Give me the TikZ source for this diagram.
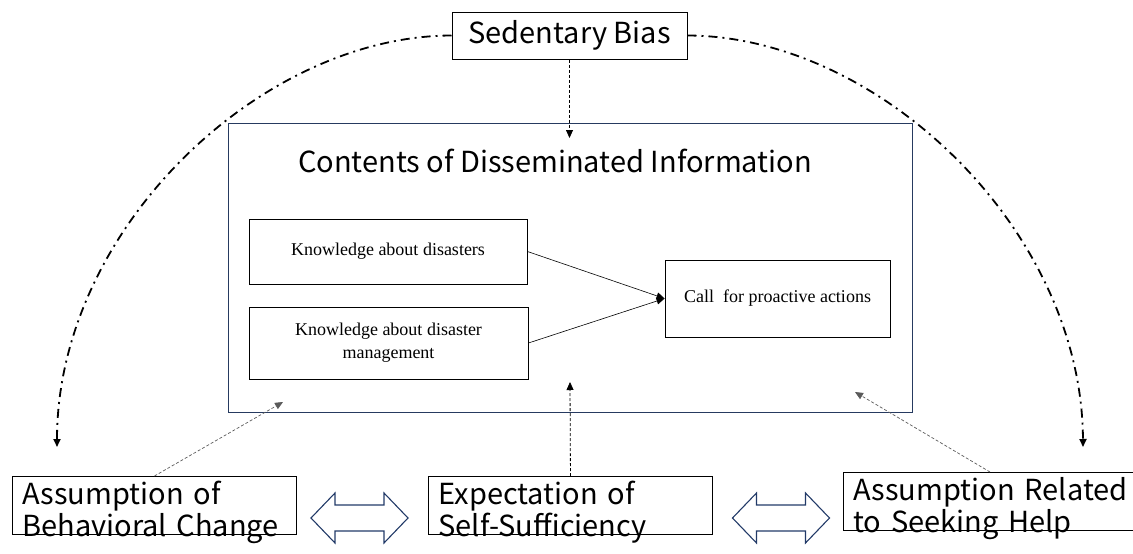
\documentclass[tikz,border=0pt]{standalone}
\usepackage{fontspec}
\usepackage{tikz}
\usetikzlibrary{arrows.meta, positioning, calc}
\newfontfamily\gothic{Noto Sans CJK JP}
\newfontfamily\timesfont{Liberation Serif}
\definecolor{framenavy}{RGB}{38, 58, 96}
\definecolor{arrownavy}{RGB}{34, 58, 104}
\definecolor{linkgray}{RGB}{90, 90, 90}

\begin{document}
\begin{tikzpicture}[x=1pt, y=-1pt,
    tip/.style={-{Triangle[length=8pt, width=7pt]}},
    bigtext/.style={font=\gothic\fontsize{29}{32}\selectfont},
    knowbox/.style={draw, line width=0.9pt, align=center, inner sep=0pt,
      font=\timesfont\fontsize{18}{23}\selectfont},
    assumbox/.style={draw, line width=0.9pt, anchor=north west, align=left, bigtext,
      inner xsep=10pt, inner ysep=5pt, text depth=25pt},
    dashdot/.style={line width=1.8pt, dash pattern=on 9pt off 5pt on 2pt off 5pt},
    thindash/.style={linkgray, line width=0.7pt, dash pattern=on 3pt off 2pt},
    vdash/.style={line width=0.8pt, dash pattern=on 3pt off 2pt},
    dblarrow/.pic={
      \draw[arrownavy, line width=1.1pt, line join=miter]
        (-48.5,0) -- (-24.5,-25) -- (-24.5,-13) -- (24.5,-13) -- (24.5,-25) -- (48.5,0)
        -- (24.5,25) -- (24.5,13) -- (-24.5,13) -- (-24.5,25) -- cycle;
    }
  ]
  \useasboundingbox (0,0) rectangle (1133,554);

  % top label and the frame of the information block
  \node[draw, bigtext, line width=1pt, inner sep=0pt, minimum width=235pt, minimum height=47pt]
    (bias) at (569.5,35.5) {Sedentary Bias};
  \node[draw=framenavy, line width=1pt, minimum width=684pt, minimum height=289pt]
    (info) at (570,267.5) {};
  \node[bigtext] (title) at (555,161) {Contents of Disseminated Information};

  % contents inside the frame
  \node[knowbox, minimum width=278pt, minimum height=65pt] (know) at (388,251.5)
    {Knowledge about disasters};
  \node[knowbox, minimum width=279pt, minimum height=72pt] (manage) at (388.5,343)
    {Knowledge about disaster\\management};
  \node[knowbox, minimum width=225pt, minimum height=77pt] (call) at (777.5,298.5)
    {Call\ \ for proactive actions};
  \draw[tip, line width=0.6pt] (know.east) -- (call.west);
  \draw[tip, line width=0.6pt] (manage.east) -- (call.west);

  % the three assumptions along the bottom
  \node[assumbox, text width=264pt] (behav) at (12,476) {Assumption of\\Behavioral Change};
  \node[assumbox, text width=264pt] (self) at (428,476) {Expectation of\\Self-Sufficiency};
  \node[assumbox, text width=300pt] (help) at (843,472) {Assumption Related\\to Seeking Help};
  \pic at (359.5,518) {dblarrow};
  \pic at (781,518) {dblarrow};

  % links into the frame
  \coordinate (infotop) at (569.5,138);
  \coordinate (behavtip) at (283,402);
  \coordinate (selftip) at (570,382);
  \coordinate (helptip) at (855,392);
  \draw[vdash, tip] (bias.south) -- (infotop);
  \draw[thindash, tip] (behav.north) -- (behavtip);
  \draw[vdash, tip] (self.north) -- (selftip);
  \draw[thindash, tip] ($(help.north west)+(147,0)$) -- (helptip);

  % bias arcs down to both sides
  \coordinate (leftend) at (57,447);
  \coordinate (rightend) at (1083,447);
  \draw[dashdot, tip] (bias.west) .. controls (260,36) and (57,230) .. (leftend);
  \draw[dashdot, tip] (bias.east) .. controls (879,36) and (1082,230) .. (rightend);
\end{tikzpicture}
\end{document}
